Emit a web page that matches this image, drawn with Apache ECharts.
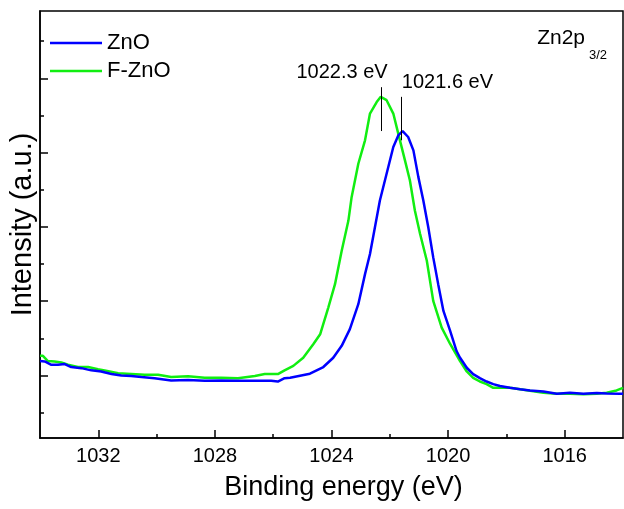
<!DOCTYPE html>
<html><head><meta charset="utf-8">
<script src="https://cdn.jsdelivr.net/npm/echarts@6/dist/echarts.min.js"></script>
<style>html,body{margin:0;padding:0;background:#fff}#c{width:624px;height:509px}</style>
</head><body><div id="c"></div>
<script>
const xMajorTicks = [1032, 1028, 1024, 1020, 1016];
const xMinorTicks = [1030, 1026, 1022, 1018];
const yMajorTicks = [1, 3, 5, 7, 9];
const yMinorTicks = [0, 2, 4, 6, 8, 10];

const znoEnergy = [1034.00,1033.84,1033.61,1033.38,1033.15,1032.93,1032.58,1032.24,1031.90,1031.55,1031.21,1030.87,1030.52,1030.07,1029.50,1028.92,1028.35,1027.78,1027.21,1026.63,1026.07,1025.84,1025.61,1025.42,1024.74,1024.28,1023.94,1023.65,1023.37,1023.08,1022.85,1022.68,1022.51,1022.34,1022.11,1021.88,1021.71,1021.56,1021.37,1021.19,1021.02,1020.85,1020.68,1020.51,1020.34,1020.16,1019.93,1019.71,1019.59,1019.36,1019.14,1018.91,1018.68,1018.45,1018.22,1017.88,1017.53,1017.19,1016.73,1016.27,1015.82,1015.36,1014.90,1014.56,1014.10,1014.00];
const znoIntensity = [1.39,1.38,1.29,1.29,1.31,1.23,1.20,1.14,1.11,1.04,1.00,0.99,0.96,0.93,0.87,0.88,0.86,0.87,0.86,0.86,0.86,0.84,0.93,0.94,1.05,1.23,1.48,1.80,2.25,2.92,3.73,4.27,4.99,5.71,6.43,7.15,7.46,7.58,7.42,7.06,6.34,5.71,4.99,4.18,3.46,2.74,2.20,1.66,1.48,1.21,1.04,0.93,0.84,0.77,0.72,0.67,0.63,0.60,0.57,0.51,0.54,0.51,0.53,0.52,0.51,0.51];

const fznoEnergy = [1034.00,1033.90,1033.73,1033.50,1033.27,1033.04,1032.70,1032.35,1032.01,1031.78,1031.32,1030.87,1030.41,1029.95,1029.50,1028.92,1028.35,1027.78,1027.21,1026.63,1026.29,1025.84,1025.61,1025.31,1024.97,1024.62,1024.39,1024.11,1023.88,1023.65,1023.42,1023.31,1023.08,1022.85,1022.68,1022.45,1022.31,1022.11,1021.88,1021.71,1021.48,1021.31,1021.14,1020.96,1020.73,1020.51,1020.22,1019.93,1019.59,1019.36,1019.14,1018.91,1018.68,1018.45,1017.88,1017.53,1017.19,1016.73,1016.27,1015.82,1015.36,1014.90,1014.56,1014.22,1014.00];
const fznoIntensity = [1.53,1.53,1.39,1.38,1.35,1.29,1.23,1.23,1.17,1.14,1.06,1.04,1.02,1.02,0.96,0.98,0.94,0.94,0.93,0.99,1.04,1.04,1.14,1.26,1.48,1.85,2.11,2.83,3.46,4.36,5.17,5.80,6.70,7.33,8.05,8.36,8.50,8.41,8.05,7.51,6.79,6.25,5.44,4.81,4.09,3.01,2.29,1.85,1.39,1.11,0.94,0.84,0.77,0.67,0.67,0.63,0.59,0.54,0.51,0.51,0.50,0.51,0.54,0.60,0.67];

const seriesNames = ['ZnO', 'F-ZnO'];
const peakEnergy = [1021.6, 1022.3];
const peakMarkTop = [8.50, 8.76];
const peakMarkBottom = [7.33, 7.58];

const FONT = "'Liberation Sans', Arial, sans-serif";
const zip = (xs, ys) => xs.map((x, i) => [x, ys[i]]);

function peakMarks(i, dx, dy) {
  return {
    markLine: {
      silent: true, symbol: 'none', animation: false,
      lineStyle: { color: '#000', width: 1, type: 'solid' },
      label: { show: false },
      data: [[{ coord: [peakEnergy[i], peakMarkTop[i]] }, { coord: [peakEnergy[i], peakMarkBottom[i]] }]]
    },
    markPoint: {
      silent: true, animation: false, symbol: 'circle', symbolSize: 1,
      itemStyle: { color: 'rgba(0,0,0,0)' },
      label: { show: true, position: 'inside', offset: [dx, dy], color: '#000', fontSize: 20, fontFamily: FONT,
               formatter: peakEnergy[i].toFixed(1) + ' eV' },
      data: [{ coord: [peakEnergy[i], peakMarkTop[i]] }]
    }
  };
}

const chart = echarts.init(document.getElementById('c'), null, { renderer: 'canvas' });
chart.setOption({
  animation: false,
  backgroundColor: '#fff',
  grid: { left: 40, right: 1, top: 11, bottom: 71, outerBoundsMode: 'none', containLabel: false,
          show: true, borderColor: '#000', borderWidth: 1.5, backgroundColor: 'rgba(0,0,0,0)' },
  title: [{
    text: 'Zn2p', right: 34, top: 23,
    textStyle: { fontSize: 21, fontFamily: FONT, fontWeight: 'normal', color: '#000' }
  }, {
    text: '3/2', right: 12, top: 44,
    textStyle: { fontSize: 13, fontFamily: FONT, fontWeight: 'normal', color: '#000' }
  }],
  legend: {
    orient: 'vertical', left: 50, top: 32, padding: 0, itemWidth: 52, itemHeight: 2.5, itemGap: 6,
    icon: 'rect', textStyle: { fontSize: 22, fontFamily: FONT, color: '#000' },
    data: seriesNames
  },
  xAxis: [{
    type: 'value', inverse: true, min: 1014, max: 1034, interval: 2,
    name: 'Binding energy (eV)', nameLocation: 'middle', nameGap: 36,
    nameTextStyle: { fontSize: 27, fontFamily: FONT, color: '#000', padding: [0, 0, 0, 24] },
    axisLine: { show: true, onZero: false, lineStyle: { color: '#000', width: 1.5 } },
    axisTick: { show: true, inside: true, length: 8, customValues: xMajorTicks, lineStyle: { color: '#000', width: 1.5 } },
    axisLabel: { show: true, customValues: xMajorTicks, formatter: v => String(v), fontSize: 20, fontFamily: FONT, color: '#000', margin: 8 },
    splitLine: { show: false }
  }, {
    type: 'value', inverse: true, min: 1014, max: 1034, interval: 2, position: 'bottom',
    axisLine: { show: false, onZero: false },
    axisTick: { show: true, inside: true, length: 4, customValues: xMinorTicks, lineStyle: { color: '#000', width: 1.5 } },
    axisLabel: { show: false }, splitLine: { show: false }
  }],
  yAxis: [{
    type: 'value', min: -0.68, max: 10.81,
    name: 'Intensity (a.u.)', nameLocation: 'middle', nameGap: 3,
    nameTextStyle: { fontSize: 29, fontFamily: FONT, color: '#000' },
    axisLine: { show: true, onZero: false, lineStyle: { color: '#000', width: 1.5 } },
    axisTick: { show: true, inside: true, length: 8, customValues: yMajorTicks, lineStyle: { color: '#000', width: 1.5 } },
    axisLabel: { show: false }, splitLine: { show: false }
  }, {
    type: 'value', min: -0.68, max: 10.81, position: 'left',
    axisLine: { show: false, onZero: false },
    axisTick: { show: true, inside: true, length: 4, customValues: yMinorTicks, lineStyle: { color: '#000', width: 1.5 } },
    axisLabel: { show: false }, splitLine: { show: false }
  }],
  series: [
    Object.assign({
      name: seriesNames[0], type: 'line', xAxisIndex: 0, yAxisIndex: 0, showSymbol: false, symbol: 'none',
      lineStyle: { color: '#0000ff', width: 2.5 }, itemStyle: { color: '#0000ff' }, z: 3,
      data: zip(znoEnergy, znoIntensity)
    }, peakMarks(0, 46, -14)),
    Object.assign({
      name: seriesNames[1], type: 'line', xAxisIndex: 0, yAxisIndex: 0, showSymbol: false, symbol: 'none',
      lineStyle: { color: '#11ee11', width: 2.5 }, itemStyle: { color: '#11ee11' }, z: 2,
      data: zip(fznoEnergy, fznoIntensity)
    }, peakMarks(1, -39, -15))
  ]
});
</script></body></html>
